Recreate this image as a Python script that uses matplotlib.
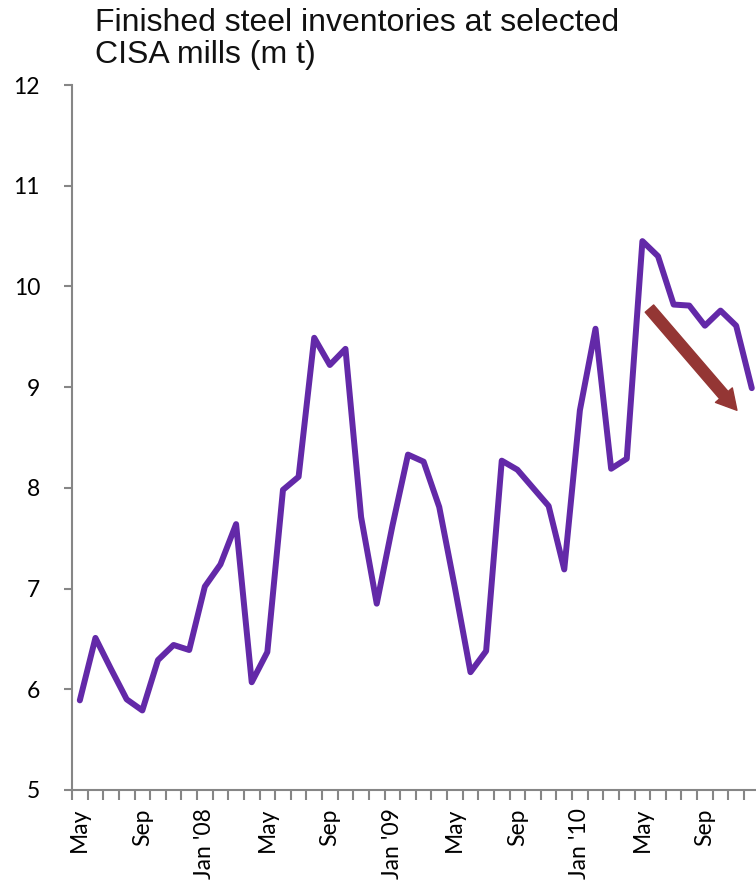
import matplotlib
matplotlib.use("Agg")
import matplotlib.pyplot as plt

# monthly finished steel inventories, May 2007 - Dec 2010 (million tonnes)
months = [
    "May", "Jun", "Jul", "Aug", "Sep", "Oct", "Nov", "Dec",
    "Jan '08", "Feb", "Mar", "Apr", "May", "Jun", "Jul", "Aug",
    "Sep", "Oct", "Nov", "Dec", "Jan '09", "Feb", "Mar", "Apr",
    "May", "Jun", "Jul", "Aug", "Sep", "Oct", "Nov", "Dec",
    "Jan '10", "Feb", "Mar", "Apr", "May", "Jun", "Jul", "Aug",
    "Sep", "Oct", "Nov", "Dec",
]
inventories = [
    5.89, 6.51, 6.20, 5.90, 5.79, 6.29, 6.44, 6.39,
    7.02, 7.24, 7.64, 6.07, 6.37, 7.98, 8.11, 9.49,
    9.22, 9.38, 7.71, 6.85, 7.62, 8.33, 8.26, 7.81,
    7.01, 6.17, 6.38, 8.27, 8.18, 8.00, 7.82, 7.19,
    8.77, 9.58, 8.19, 8.29, 10.45, 10.30, 9.82, 9.81,
    9.61, 9.76, 9.61, 8.99,
]
label_every = 4

# trend arrow drawn over the last months (category index, value)
arrow_start = (36.45, 9.78)
arrow_end = (42.05, 8.77)

line_color = "#6329a8"
arrow_color = "#943634"
axis_color = "#868686"

W, H = 756, 883
fig = plt.figure(figsize=(W / 100, H / 100), dpi=100)
ax = fig.add_axes([72 / W, 93 / H, 687.6 / W, 705 / H])

x = list(range(len(inventories)))
ax.plot(x, inventories, color=line_color, linewidth=4.3,
        solid_joinstyle="round", solid_capstyle="round", zorder=3)

ax.set_xlim(-0.5, len(inventories) - 0.5)
ax.set_ylim(5, 12)

for side in ("top", "right"):
    ax.spines[side].set_visible(False)
for side in ("left", "bottom"):
    ax.spines[side].set_color(axis_color)
    ax.spines[side].set_linewidth(1.5)

# y axis
ax.set_yticks(range(5, 13))
ax.tick_params(axis="y", direction="out", length=6, width=1.5,
               color=axis_color, pad=17, labelsize=16.5)

# x axis: tick marks between months, labels every fourth month
ax.set_xticks([i - 0.5 for i in range(len(inventories) + 1)], minor=True)
ax.set_xticks(x[::label_every])
ax.set_xticklabels(months[::label_every], rotation=90, va="top", ha="center")
ax.tick_params(axis="x", which="minor", direction="out", length=7,
               width=1.5, color=axis_color)
ax.tick_params(axis="x", which="major", length=0, pad=13, labelsize=16.5)

for lbl in ax.get_xticklabels() + ax.get_yticklabels():
    lbl.set_fontfamily("Lato")

ax.annotate("", xy=arrow_end, xytext=arrow_start,
            arrowprops=dict(arrowstyle="simple,head_length=0.9,head_width=1.0,tail_width=0.5",
                            color=arrow_color, mutation_scale=16, shrinkA=0, shrinkB=0),
            zorder=4)

fig.text(95 / W, 1 - 8 / H,
         "Finished steel inventories at selected\nCISA mills (m t)",
         ha="left", va="top", fontsize=23, family="Liberation Sans",
         linespacing=1.1, color="#111111")

fig.savefig("out.png", dpi=100)
